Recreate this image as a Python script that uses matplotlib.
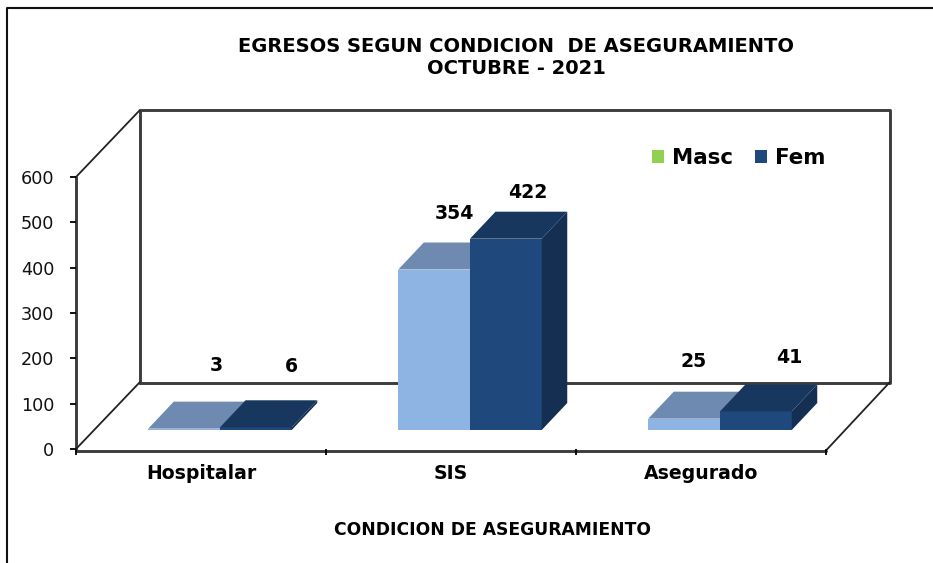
import matplotlib
matplotlib.use("Agg")
import matplotlib.pyplot as plt
import numpy as np
from matplotlib.patches import Patch, Polygon
from matplotlib.lines import Line2D
from matplotlib.transforms import ScaledTranslation

# ---- data ----
categories = ["Hospitalar", "SIS", "Asegurado"]
masc = [3, 354, 25]
fem = [6, 422, 41]
yticks = [0, 100, 200, 300, 400, 500, 600]
title = "EGRESOS SEGUN CONDICION  DE ASEGURAMIENTO\nOCTUBRE - 2021"
xlabel = "CONDICION DE ASEGURAMIENTO"

# ---- style ----
W, H = 933, 563
FONT = "DejaVu Sans"
MASC_FRONT, MASC_TOP, MASC_SIDE = "#8DB4E2", "#6F8AB0", "#5F7CA5"
FEM_FRONT, FEM_TOP, FEM_SIDE = "#1F497D", "#17375E", "#152F52"
WALL = "#3c3c3c"
BAR_W = 0.287
plt.rcParams["font.family"] = FONT

fig = plt.figure(figsize=(W / 100, H / 100), dpi=100, facecolor="white")
# axes in pixels: x 76..826, y 449 (0) .. 177 (600)
L, R, B, T = 76, 826, 449, 177
ax = fig.add_axes([L / W, 1 - B / H, (R - L) / W, (B - T) / H])
ax.set_xlim(0, 3)
ax.set_ylim(0, 600)
ax.patch.set_alpha(0)
for s in ax.spines.values():
    s.set_visible(False)

px_x = 3 / (R - L)       # data units per pixel
px_y = 600 / (B - T)

# walls
wdx, wdy = 63.5 * px_x, 66.5 * px_y
wall_kw = dict(color=WALL, lw=2.1, clip_on=False, zorder=1, solid_capstyle="round")
ax.plot([0, 0], [0, 600], **wall_kw)
ax.plot([0, 3], [-1.5 * px_y, -1.5 * px_y], **wall_kw)
ax.plot([wdx, wdx, 3 + wdx, 3 + wdx, wdx], [wdy, 600 + wdy, 600 + wdy, wdy, wdy], **wall_kw)
thin = dict(color="#222222", lw=1.3, clip_on=False, zorder=1)
ax.plot([0, wdx], [600, 600 + wdy], **thin)
ax.plot([0, wdx], [0, wdy], **thin)
ax.plot([3, 3 + wdx], [-1.5 * px_y, wdy], **thin)

# bars sit on the floor, shifted into the depth
floor = ax.transData + ScaledTranslation(19 / 100, 19 / 100, fig.dpi_scale_trans)
centers = np.arange(len(categories)) + 0.5
ddx, ddy = 25.5 * px_x, 27 * px_y


def bar3d(xs, vals, front, top, side, z):
    ax.bar(xs, vals, width=BAR_W, color=front, transform=floor, zorder=z, linewidth=0, clip_on=False)
    for x, v in zip(xs, vals):
        x0, x1 = x - BAR_W / 2, x + BAR_W / 2
        ax.add_patch(Polygon([(x0, v), (x1, v), (x1 + ddx, v + ddy), (x0 + ddx, v + ddy)],
                             closed=True, fc=top, ec="none", transform=floor, zorder=z, clip_on=False))
        ax.add_patch(Polygon([(x1, 0), (x1 + ddx, ddy), (x1 + ddx, v + ddy), (x1, v)],
                             closed=True, fc=side, ec="none", transform=floor, zorder=z, clip_on=False))


xm = centers - BAR_W / 2
xf = centers + BAR_W / 2
bar3d(xm, masc, MASC_FRONT, MASC_TOP, MASC_SIDE, 3)
bar3d(xf, fem, FEM_FRONT, FEM_TOP, FEM_SIDE, 4)

# value labels (pixel offsets from each bar's top)
off_m = [(32, 63), (20, 56), (10, 57)]
off_f = [(36, 61), (22, 46), (33, 54)]
lab_kw = dict(xycoords=floor, textcoords="offset pixels", ha="center", va="center",
              fontsize=13.6, fontweight="bold", color="black", zorder=6, annotation_clip=False)
for xs, vals, offs in ((xm, masc, off_m), (xf, fem, off_f)):
    for x, v, o in zip(xs, vals, offs):
        ax.annotate(str(v), (x, v), xytext=o, **lab_kw)

# axes ticks
ax.set_yticks(yticks)
ax.tick_params(axis="y", length=4.5, width=1.3, pad=11, labelsize=12.7, color="black", labelcolor="#111111")
ax.set_xticks([0, 1, 2, 3])
ax.set_xticklabels([])
ax.tick_params(axis="x", which="major", length=4, width=1.3, color="black")
ax.set_xticks(centers, minor=True)
ax.set_xticklabels(categories, minor=True, fontweight="bold", fontsize=13.6)
ax.tick_params(axis="x", which="minor", length=0, pad=11)

# texts
fig.text(516.5 / W, 1 - 57.5 / H, title, ha="center", va="center", fontsize=14,
         fontweight="bold", color="black", linespacing=1.22)
fig.text(493 / W, 1 - 530 / H, xlabel, ha="center", va="center", fontsize=12.3,
         fontweight="bold", color="black")

# legend
handles = [Patch(fc="#92D050", ec="none", label="Masc"), Patch(fc=FEM_FRONT, ec="none", label="Fem")]
fig.legend(handles=handles, ncol=2, frameon=False, loc="center left",
           bbox_to_anchor=(652 / W, 1 - 158 / H), bbox_transform=fig.transFigure,
           prop=dict(size=15.4, weight="bold"), handlelength=0.55, handleheight=0.55,
           handletextpad=0.38, columnspacing=1.05, borderpad=0, borderaxespad=0)

# outer frame
fig.add_artist(Line2D([6.5 / W, 6.5 / W, 1], [0, 1 - 8 / H, 1 - 8 / H], color="#111111", lw=1.5,
                      transform=fig.transFigure))

fig.savefig("out.png", dpi=100)
